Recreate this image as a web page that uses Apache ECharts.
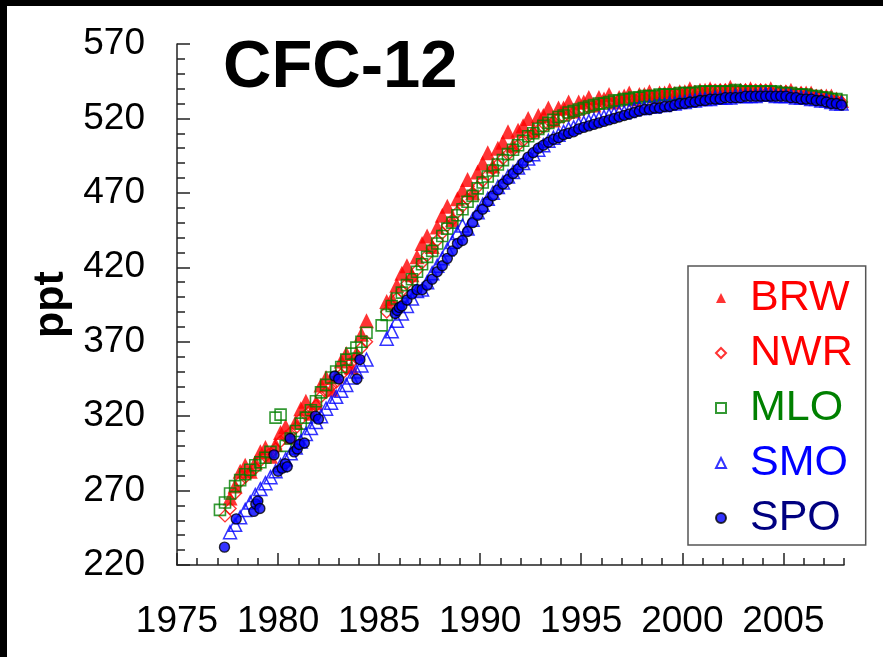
<!DOCTYPE html>
<html>
<head>
<meta charset="utf-8">
<script src="https://cdn.jsdelivr.net/npm/echarts@6/dist/echarts.min.js"></script>
<style>
html,body{margin:0;padding:0;background:#fff;}
#c{width:883px;height:657px;}
</style>
</head>
<body>
<div id="c"></div>
<script>
// ---- Data (CFC-12, ppt) ----
const stations = ['BRW', 'NWR', 'MLO', 'SMO', 'SPO'];
const quarterOffsets = [0.125, 0.375, 0.625, 0.875];

// rows: [year, Q1, Q2, Q3, Q4]
const brwRows = [
  [1977, null, null, 265, 273],
  [1978, 283, 287, 283, 289],
  [1979, 296, 299, 293, 301],
  [1980, 309, 313, 306, 316],
  [1981, 325, 330, 322, 329],
  [1982, 341, 346, 338, 347],
  [1983, 357, 362, 353, 362],
  [1984, 375, 384, null, null],
  [1985, null, 397, 399, 408],
  [1986, 416, 421, 415, 427],
  [1987, 436, 441, 434, 447],
  [1988, 455, 461, 452, 466],
  [1989, 472, 479, 470, 484],
  [1990, 490, 497, 488, 500],
  [1991, 504, 511, 502, 512],
  [1992, 515, 520, 512, 522],
  [1993, 522, 527, 519, 527],
  [1994, 527, 531, 525, 531],
  [1995, 531, 534, 529, 534],
  [1996, 533, 536, 531, 534],
  [1997, 535, 537, 533, 536],
  [1998, 536, 538, 535, 537],
  [1999, 537, 539, 536, 538],
  [2000, 538, 540, 537, 539],
  [2001, 539, 540, 538, 539],
  [2002, 539, 541, 538, 539],
  [2003, 539, 540, 538, 539],
  [2004, 538, 540, 537, 538],
  [2005, 538, 539, 536, 537],
  [2006, 537, 537, 535, 535],
  [2007, 535, 535, 533, 532]
];

const nwrRows = [
  [1977, null, 253, 258, 268],
  [1978, 276, 279, 282, 285],
  [1979, 290, 293, 295, 298],
  [1980, 303, 306, 309, 312],
  [1981, 318, 321, 324, 327],
  [1982, 333, 336, 340, 343],
  [1983, 348, 352, 356, 359],
  [1984, 366, 370, null, null],
  [1985, null, 390, 394, 399],
  [1986, 404, 409, 413, 418],
  [1987, 423, 428, 433, 438],
  [1988, 443, 448, 452, 457],
  [1989, 461, 466, 470, 474],
  [1990, 478, 482, 486, 489],
  [1991, 493, 496, 499, 502],
  [1992, 505, 508, 510, 512],
  [1993, 514, 516, 518, 520],
  [1994, 521, 522, 524, 525],
  [1995, 526, 527, 528, 529],
  [1996, 530, 530, 531, 532],
  [1997, 532, 533, 533, 534],
  [1998, 534, 535, 535, 536],
  [1999, 536, 536, 537, 537],
  [2000, 537, 538, 538, 538],
  [2001, 538, 539, 539, 539],
  [2002, 539, 539, 539, 539],
  [2003, 539, 539, 539, 539],
  [2004, 539, 538, 538, 538],
  [2005, 538, 537, 537, 537],
  [2006, 536, 536, 535, 535],
  [2007, 534, 533, 532, 531]
];

const mloRows = [
  [1977, 257, 262, 268, 273],
  [1978, 277, 281, 284, 287],
  [1979, 289, 292, 296, 319],
  [1980, 321, 300, 305, 310],
  [1981, 315, 319, 324, 330],
  [1982, 336, 341, 346, 350],
  [1983, 353, 358, 362, 366],
  [1984, 370, 376, null, null],
  [1985, 381, 388, 394, 399],
  [1986, 403, 408, 412, 417],
  [1987, 422, 427, 431, 436],
  [1988, 441, 446, 450, 455],
  [1989, 459, 464, 468, 473],
  [1990, 477, 481, 485, 489],
  [1991, 492, 496, 499, 502],
  [1992, 505, 508, 510, 513],
  [1993, 515, 517, 519, 521],
  [1994, 522, 524, 525, 526],
  [1995, 527, 528, 529, 530],
  [1996, 530, 531, 532, 532],
  [1997, 533, 533, 534, 534],
  [1998, 535, 535, 535, 536],
  [1999, 536, 536, 536, 537],
  [2000, 537, 537, 537, 538],
  [2001, 538, 538, 538, 538],
  [2002, 538, 538, 539, 538],
  [2003, 538, 538, 538, 538],
  [2004, 538, 538, 538, 537],
  [2005, 537, 537, 536, 536],
  [2006, 536, 535, 535, 534],
  [2007, 534, 533, 533, 532]
];

const smoRows = [
  [1977, null, null, 242, 247],
  [1978, 252, 257, 262, 267],
  [1979, 271, 275, 279, 283],
  [1980, 287, 291, 295, 299],
  [1981, 303, 308, 312, 316],
  [1982, 320, 325, 329, 333],
  [1983, 337, 341, 346, 350],
  [1984, 354, 358, null, null],
  [1985, null, 372, 377, 384],
  [1986, 389, 394, 399, 404],
  [1987, 405, 410, 416, 421],
  [1988, 426, 432, 437, 443],
  [1989, 448, 446, 452, 457],
  [1990, 462, 466, 470, 474],
  [1991, 477, 481, 484, 487],
  [1992, 490, 493, 496, 499],
  [1993, 502, 505, 507, 509],
  [1994, 511, 513, 514, 516],
  [1995, 517, 518, 519, 520],
  [1996, 521, 522, 523, 524],
  [1997, 524, 525, 526, 527],
  [1998, 527, 528, 528, 529],
  [1999, 529, 530, 530, 531],
  [2000, 531, 532, 532, 533],
  [2001, 533, 533, 534, 534],
  [2002, 534, 534, 535, 535],
  [2003, 535, 535, 535, 536],
  [2004, 536, 536, 535, 535],
  [2005, 535, 535, 534, 534],
  [2006, 534, 533, 533, 532],
  [2007, 532, 531, 530, 530]
];

// SPO: sparse early samples [year, ppt]
const spoEarly = [
  [1977.35, 232], [1977.93, 251], [1978.8, 256], [1978.9, 261], [1979.0, 263],
  [1979.1, 258], [1979.8, 294], [1980.0, 283], [1980.2, 285], [1980.35, 288],
  [1980.45, 286], [1980.6, 305], [1980.8, 296], [1980.95, 298], [1981.05, 301],
  [1981.3, 302], [1981.85, 320], [1982.0, 318], [1982.8, 347], [1983.0, 345],
  [1983.9, 345], [1984.05, 358], [1985.8, 389], [1985.9, 391], [1986.0, 393]
];
const spoRows = [
  [1986, 394, 398, 402, 405],
  [1987, 405, 408, 412, 417],
  [1988, 421, 426, 431, 436],
  [1989, 438, 444, 450, 455],
  [1990, 459, 464, 468, 472],
  [1991, 476, 479, 483, 486],
  [1992, 490, 494, 497, 500],
  [1993, 502, 504, 506, 507],
  [1994, 509, 510, 511, 513],
  [1995, 514, 515, 516, 517],
  [1996, 518, 519, 520, 521],
  [1997, 522, 523, 524, 525],
  [1998, 526, 526, 527, 527],
  [1999, 528, 528, 529, 530],
  [2000, 530, 531, 531, 532],
  [2001, 532, 533, 533, 533],
  [2002, 534, 534, 534, 534],
  [2003, 535, 535, 535, 535],
  [2004, 535, 535, 535, 535],
  [2005, 535, 534, 534, 533],
  [2006, 533, 533, 532, 532],
  [2007, 531, 530, 530, 529]
];

// ---- Build point lists ----
function toPoints(rows) {
  const pts = [];
  rows.forEach(r => {
    for (let q = 0; q < 4; q++) {
      const v = r[q + 1];
      if (v !== null) pts.push([r[0] + quarterOffsets[q], v]);
    }
  });
  return pts;
}

const FONT = '"Liberation Sans", Arial, Helvetica, sans-serif';
const chart = echarts.init(document.getElementById('c'), null, { renderer: 'canvas' });

const axisLineStyle = { color: '#222', width: 1.5 };

const option = {
  backgroundColor: '#ffffff',
  animation: false,
  textStyle: { fontFamily: FONT },
  grid: { left: 177, right: 39, top: 44, bottom: 92, containLabel: false, outerBoundsMode: 'none' },
  title: {
    text: 'CFC-12',
    left: 218,
    top: 30,
    textStyle: { fontFamily: FONT, fontSize: 67, fontWeight: 'bold', color: '#000' }
  },
  legend: {
    orient: 'vertical',
    left: 688,
    top: 266,
    padding: [8, 13, 3, 27],
    itemGap: 7,
    itemWidth: 10,
    itemHeight: 10,
    borderColor: '#555',
    borderWidth: 1.5,
    backgroundColor: '#fff',
    textStyle: { fontFamily: FONT, fontSize: 43, lineHeight: 48, padding: [0, 0, 0, 19] },
    data: [
      { name: 'BRW', textStyle: { color: '#ff0000' } },
      { name: 'NWR', textStyle: { color: '#ff0000' } },
      { name: 'MLO', textStyle: { color: '#008000' } },
      { name: 'SMO', textStyle: { color: '#0000ff' } },
      { name: 'SPO', textStyle: { color: '#000080' } }
    ]
  },
  xAxis: [
    {
      type: 'value', min: 1975, max: 2008, interval: 5, position: 'bottom',
      axisLine: { show: true, lineStyle: axisLineStyle },
      axisTick: { show: true, inside: true, length: 12, lineStyle: axisLineStyle },
      splitLine: { show: false },
      axisLabel: {
        fontSize: 37, color: '#000', fontFamily: FONT, margin: 38,
        showMaxLabel: false,
        formatter: v => (v % 5 === 0 ? String(v) : '')
      }
    },
    {
      type: 'value', min: 1975, max: 2008, interval: 1, position: 'bottom',
      axisLine: { show: false },
      axisTick: { show: true, inside: true, length: 7, lineStyle: axisLineStyle },
      splitLine: { show: false },
      axisLabel: { show: false }
    }
  ],
  yAxis: [
    {
      type: 'value', min: 220, max: 570, interval: 50, position: 'left',
      name: 'ppt', nameLocation: 'middle', nameGap: 104,
      nameTextStyle: { fontFamily: FONT, fontSize: 43, fontWeight: 'bold', color: '#000' },
      axisLine: { show: true, lineStyle: axisLineStyle },
      axisTick: { show: true, inside: true, length: 13, lineStyle: axisLineStyle },
      splitLine: { show: false },
      axisLabel: { fontSize: 37, color: '#000', fontFamily: FONT, margin: 32 }
    },
    {
      type: 'value', min: 220, max: 570, interval: 10, position: 'left',
      axisLine: { show: false },
      axisTick: { show: true, inside: true, length: 8, lineStyle: axisLineStyle },
      splitLine: { show: false },
      axisLabel: { show: false }
    }
  ],
  graphic: [
    { type: 'rect', left: 0, top: 0, shape: { width: 883, height: 6 }, style: { fill: '#000' }, z: 100 },
    { type: 'rect', left: 0, top: 0, shape: { width: 7, height: 657 }, style: { fill: '#000' }, z: 100 }
  ],
  series: [
    {
      name: 'BRW', type: 'scatter', symbol: 'triangle', symbolSize: 15,
      itemStyle: { color: '#ff0000', borderWidth: 0 },
      data: toPoints(brwRows), z: 2
    },
    {
      name: 'NWR', type: 'scatter', symbol: 'diamond', symbolSize: 12,
      itemStyle: { color: 'rgba(255,255,255,0)', borderColor: '#ff0000', borderWidth: 1.4 },
      data: toPoints(nwrRows), z: 2
    },
    {
      name: 'MLO', type: 'scatter', symbol: 'rect', symbolSize: 11,
      itemStyle: { color: 'rgba(255,255,255,0)', borderColor: '#008000', borderWidth: 1.6 },
      data: toPoints(mloRows), z: 2
    },
    {
      name: 'SMO', type: 'scatter', symbol: 'triangle', symbolSize: 13,
      itemStyle: { color: 'rgba(255,255,255,0)', borderColor: '#0000ff', borderWidth: 1.5 },
      data: toPoints(smoRows), z: 2
    },
    {
      name: 'SPO', type: 'scatter', symbol: 'circle', symbolSize: 10,
      itemStyle: { color: '#0000ff', borderColor: '#000', borderWidth: 1.4 },
      data: spoEarly.concat(toPoints(spoRows)), z: 2
    }
  ]
};
chart.setOption(option);
</script>
</body>
</html>
